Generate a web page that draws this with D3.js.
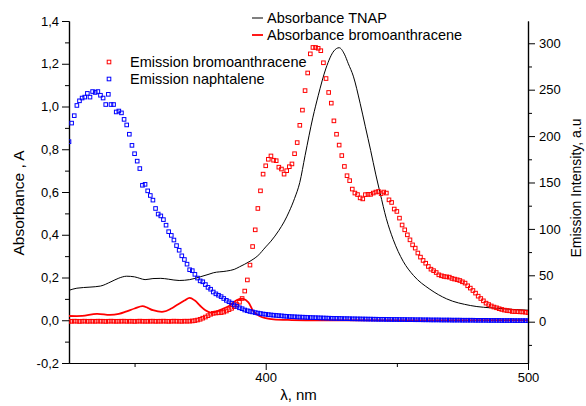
<!DOCTYPE html>
<html>
<head>
<meta charset="utf-8">
<script src="https://cdn.jsdelivr.net/npm/d3@7"></script>
<style>
  body { margin: 0; background: #fff; }
  text { font-family: "Liberation Sans", Arial, sans-serif; fill: #000; }
</style>
</head>
<body>
<svg id="chart" width="586" height="406"></svg>
<script>
// emission spectra, sampled every nm from 325 to 500
const emWavelengths = d3.range(325, 501);

const emBromo = [
  0.5, 0.4, 0.6, 0.5, 0.3, 0.5, 0.6, 0.4, 0.5, 0.5,
  0.4, 0.6, 0.5, 0.5, 0.3, 0.5, 0.6, 0.5, 0.4, 0.5,
  0.5, 0.6, 0.4, 0.5, 0.5, 0.3, 0.5, 0.6, 0.5, 0.4,
  0.5, 0.5, 0.6, 0.4, 0.5, 0.5, 0.6, 0.5, 0.4, 0.5,
  0.6, 0.5, 0.5, 0.4, 0.6, 0.5, 0.6, 0.8, 1.2, 1.8,
  2.6, 3.8, 5, 6.5, 8, 9, 9.4, 9.6, 9.8, 10.4,
  11.5, 13, 14.4, 16.2, 18.5, 21, 25, 33, 45, 61,
  81, 99, 122, 141, 159, 168, 175, 178.6, 174, 173.5,
  166.5, 164.5, 159, 162.7, 167, 170, 181, 193, 211.6, 228,
  249, 268, 288.6, 295.5, 295.5, 294.6, 292, 279, 262, 247,
  235.5, 216.4, 202, 190.3, 179, 167.3, 157.3, 152, 142.9, 138.6,
  137, 133.4, 132.3, 136.9, 137.2, 137.2, 138.6, 139.7, 140.3, 138,
  139.7, 138.6, 131.3, 128.5, 121.4, 118.8, 111.6, 104.2, 99, 93.6,
  88.2, 82.8, 79.3, 74, 69.6, 66, 63, 59.5, 56.6, 55,
  53, 50.5, 49.5, 48.7, 48.3, 48, 46.6, 45.9, 45.2, 44.4,
  43, 41.6, 38.7, 36.2, 33.6, 30.8, 27.5, 25, 22.5, 20,
  18.5, 17, 15.8, 15, 14, 13.2, 12.5, 12, 11.7, 11,
  10.9, 10.8, 10.6, 10.5, 10.2, 9.8
];

const emNaph = [
  194, 214, 222, 233, 238, 241, 242, 246, 242, 248,
  247, 248, 244, 241, 234, 245, 234, 234, 226, 227,
  225, 218, 212, 202, 190, 181, 173, 165, 147, 148,
  141, 136, 131, 122, 116, 114, 110, 104, 97, 93,
  88, 82, 77, 71, 67, 62, 56, 55, 51, 47,
  44, 43, 40, 37, 35, 32,
  30, 28.5, 27, 25, 23, 21.5, 20, 18, 16.5, 15,
  14, 12.6, 11.8, 11, 10.5, 9.8, 9.3, 8.8, 8.3, 8,
  7.6, 7.3, 7, 6.8, 6.5, 6.3, 6, 5.8, 5.6, 5.4,
  5.3, 5.1, 5, 4.9, 4.8, 4.6, 4.5, 4.4, 4.3, 4.2,
  4.1, 4, 3.9, 3.8, 3.7, 3.6, 3.6, 3.5, 3.4, 3.3,
  3.3, 3.2, 3.1, 3.1, 3.0, 3.0, 2.9, 2.9, 2.8, 2.8,
  2.7, 2.7, 2.6, 2.6, 2.6, 2.5, 2.5, 2.4, 2.4, 2.4,
  2.3, 2.3, 2.3, 2.2, 2.2, 2.2, 2.1, 2.1, 2.1, 2.0,
  2.0, 2.0, 1.9, 1.9, 1.9, 1.9, 1.8, 1.8, 1.8, 1.8,
  1.7, 1.7, 1.7, 1.7, 1.6, 1.6, 1.6, 1.6, 1.6, 1.5,
  1.5, 1.5, 1.5, 1.5, 1.4, 1.4, 1.4, 1.4, 1.4, 1.3,
  1.3, 1.3, 1.3, 1.3, 1.2, 1.2, 1.2, 1.2, 1.2, 1.1
];

// absorbance curves [nm, A]
const absTnap = [
  [325, 0.14], [328, 0.15], [333, 0.155], [337, 0.16], [341, 0.18], [344, 0.197],
  [347, 0.206], [350, 0.203], [352, 0.196], [354, 0.19], [357, 0.195], [360, 0.196],
  [363, 0.192], [367, 0.186], [371, 0.19], [375, 0.203], [378, 0.214], [380, 0.222],
  [385, 0.23], [388, 0.238], [390, 0.25], [394, 0.276], [397, 0.302], [400, 0.343],
  [402, 0.37], [405, 0.42], [407, 0.46], [409, 0.51], [411, 0.57], [413, 0.645],
  [415, 0.77], [418, 0.95], [420, 1.05], [423, 1.18], [426, 1.26], [428, 1.275],
  [430, 1.245], [431.5, 1.2], [433.4, 1.142], [436, 1.015], [438, 0.905], [440, 0.795],
  [442, 0.68], [443.6, 0.596], [446, 0.475], [448.6, 0.378], [452.4, 0.276], [456.3, 0.21],
  [462.6, 0.145], [469, 0.1], [478, 0.069], [488, 0.056], [500, 0.047]
];

const absBromo = [
  [325, 0.02], [330, 0.02], [335.6, 0.03], [340.6, 0.025], [344, 0.03], [347, 0.042],
  [350, 0.055], [353, 0.066], [355, 0.058], [357, 0.047], [361, 0.04], [364, 0.055],
  [366, 0.07], [369, 0.092], [371, 0.105], [373, 0.092], [375, 0.068], [377, 0.047],
  [379, 0.036], [381, 0.04], [383, 0.05], [386, 0.067], [389, 0.094], [391.5, 0.1],
  [393.4, 0.084], [395.3, 0.042], [397.8, 0.019], [400, 0.01], [403, 0.004], [410, 0.001],
  [420, 0], [500, 0]
];

const xTicks = [400, 500];
const xMinor = [350, 450];
const leftTicks = [-0.2, 0, 0.2, 0.4, 0.6, 0.8, 1.0, 1.2, 1.4];
const leftMinor = [-0.1, 0.1, 0.3, 0.5, 0.7, 0.9, 1.1, 1.3];
const rightTicks = [0, 50, 100, 150, 200, 250, 300];
const rightMinor = [-25, 25, 75, 125, 175, 225, 275];

const svg = d3.select('#chart');
const L = 69, R = 528, T = 21, B = 363;

const x = d3.scaleLinear().domain([325, 500]).range([L, R]);
const yA = d3.scaleLinear().domain([-0.2, 1.4]).range([B, T]);
const yE = d3.scaleLinear().domain([-44.5, 324]).range([B, T]);

const commaFmt = d => d3.format('.1f')(d).replace('.', ',').replace('\u2212', '-');

function styleAxis(g) {
  g.select('.domain').attr('stroke', '#000').attr('stroke-width', 1.2);
  g.selectAll('.tick line').attr('stroke', '#000').attr('stroke-width', 1);
  g.selectAll('.tick text').style('font-size', '13px').attr('fill', '#000');
}

// axes
svg.append('g').attr('transform', `translate(0,${B})`)
  .call(d3.axisBottom(x).tickValues(xMinor).tickSize(4).tickSizeOuter(0).tickFormat(''))
  .call(styleAxis);
svg.append('g').attr('transform', `translate(0,${B})`)
  .call(d3.axisBottom(x).tickValues(xTicks).tickSize(7).tickSizeOuter(0).tickPadding(3))
  .call(styleAxis);

svg.append('g').attr('transform', `translate(${L},0)`)
  .call(d3.axisLeft(yA).tickValues(leftMinor).tickSize(4).tickSizeOuter(0).tickFormat(''))
  .call(styleAxis);
svg.append('g').attr('transform', `translate(${L},0)`)
  .call(d3.axisLeft(yA).tickValues(leftTicks).tickSize(7).tickSizeOuter(0).tickPadding(3).tickFormat(commaFmt))
  .call(styleAxis);

svg.append('g').attr('transform', `translate(${R},0)`)
  .call(d3.axisRight(yE).tickValues(rightMinor).tickSize(4).tickSizeOuter(0).tickFormat(''))
  .call(styleAxis);
svg.append('g').attr('transform', `translate(${R},0)`)
  .call(d3.axisRight(yE).tickValues(rightTicks).tickSize(7).tickSizeOuter(0).tickPadding(4))
  .call(styleAxis);

// axis titles
svg.append('text').attr('x', (L + R) / 2).attr('y', 400)
  .attr('text-anchor', 'middle').style('font-size', '15px').text('λ, nm');
svg.append('text').attr('transform', 'translate(24,203) rotate(-90)')
  .attr('text-anchor', 'middle').style('font-size', '15.5px').text('Absorbance , A');
svg.append('text').attr('transform', 'translate(581,188) rotate(-90)')
  .attr('text-anchor', 'middle').style('font-size', '14px').text('Emission Intensity, a.u');

// plot area
svg.append('clipPath').attr('id', 'plot-clip')
  .append('rect').attr('x', L).attr('y', T - 4).attr('width', R - L).attr('height', B - T + 4);
const plot = svg.append('g').attr('clip-path', 'url(#plot-clip)');

const lineTnap = d3.line().x(d => x(d[0])).y(d => yA(d[1])).curve(d3.curveMonotoneX);
const lineBromo = d3.line().x(d => x(d[0])).y(d => yA(d[1])).curve(d3.curveCatmullRom);

plot.append('path').datum(absTnap)
  .attr('d', lineTnap).attr('fill', 'none').attr('stroke', '#000').attr('stroke-width', 1);
plot.append('path').datum(absBromo)
  .attr('d', lineBromo).attr('fill', 'none').attr('stroke', '#ff0000').attr('stroke-width', 1.8);

const SQ = 3.6;
function drawSquares(values, color) {
  plot.append('g').selectAll('rect')
    .data(values.map((v, i) => [emWavelengths[i], v]))
    .enter()
    .append('rect')
    .attr('x', d => x(d[0]) - SQ / 2)
    .attr('y', d => yE(d[1]) - SQ / 2)
    .attr('width', SQ).attr('height', SQ)
    .attr('fill', 'none').attr('stroke', color).attr('stroke-width', 1);
}
drawSquares(emBromo, '#ff0000');
drawSquares(emNaph, '#0000ff');

// legends
const lineLegend = [
  { label: 'Absorbance TNAP', color: '#000', width: 1 },
  { label: 'Absorbance bromoanthracene', color: '#ff0000', width: 1.8 }
];
lineLegend.forEach((d, i) => {
  const cy = 18 + i * 17;
  svg.append('line').attr('x1', 252).attr('x2', 263).attr('y1', cy).attr('y2', cy)
    .attr('stroke', d.color).attr('stroke-width', d.width);
  svg.append('text').attr('x', 267).attr('y', cy + 5).style('font-size', '14.5px').text(d.label);
});

const markerLegend = [
  { label: 'Emission bromoanthracene', color: '#ff0000' },
  { label: 'Emission naphtalene', color: '#0000ff' }
];
markerLegend.forEach((d, i) => {
  const cy = 62 + i * 17;
  svg.append('rect').attr('x', 109 - SQ / 2).attr('y', cy - SQ / 2).attr('width', SQ).attr('height', SQ)
    .attr('fill', 'none').attr('stroke', d.color).attr('stroke-width', 1);
  svg.append('text').attr('x', 130).attr('y', cy + 5).style('font-size', '14.5px').text(d.label);
});
</script>
</body>
</html>
